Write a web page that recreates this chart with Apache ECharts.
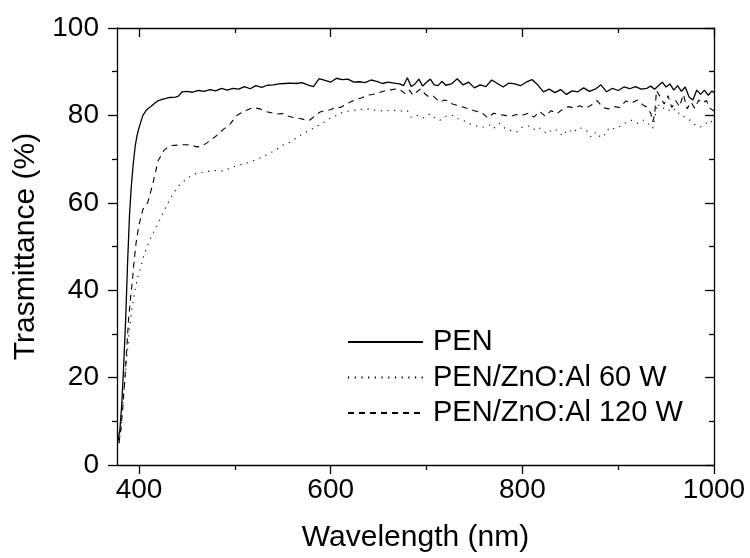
<!DOCTYPE html>
<html>
<head>
<meta charset="utf-8">
<script src="https://cdn.jsdelivr.net/npm/echarts@6/dist/echarts.min.js"></script>
<style>html,body{margin:0;padding:0;background:#fff;}#c{width:750px;height:558px;}</style>
</head>
<body>
<div id="c"></div>
<script>
const seriesNames = ['PEN', 'PEN/ZnO:Al 60 W', 'PEN/ZnO:Al 120 W'];
const xMajorTicks = [400, 600, 800, 1000];
const xMinorTicks = [500, 700, 900];

const penX = [378,380,382,384,386,388,390,392,394,396,398,400,404,408,412,416,420,426,432,438,441,445,450,456,462,468,474,480,486,492,498,504,510,516,522,528,534,540,546,552,558,564,570,576,582,588,594,600,606,612,618,624,630,636,642,648,654,660,666,672,676,680,684,688,692,696,700,704,708,712,716,720,726,732,738,744,750,756,762,768,774,780,786,792,798,804,810,816,822,828,834,840,846,852,858,864,870,876,882,888,894,900,906,912,918,924,930,934,938,942,946,950,954,958,962,966,970,974,978,982,986,990,994,998,1000];
const penY = [5.5,8,14,23,33,46,57,64,69,73,75.5,77.2,80,81.3,82,82.7,83.4,83.8,84.1,84.2,84.4,85.4,85.5,85.3,85.7,85.5,85.9,85.6,86.2,85.8,86.2,86.0,86.6,86.1,86.8,86.4,86.9,87.0,87.2,87.3,87.4,87.3,87.5,87.0,86.6,88.4,88.0,87.6,88.5,88.2,88.3,87.6,87.7,87.5,88.1,87.8,87.3,87.6,87.4,87.2,86.8,88.6,86.6,87.2,88.3,86.7,87.6,88.3,87.0,86.8,87.8,86.9,87.2,88.4,87.0,87.6,86.3,87.0,86.6,88.1,87.3,86.5,87.4,87.2,86.8,87.6,88.2,87.0,85.4,86.0,85.2,85.9,84.8,85.6,85.4,86.3,85.5,86.0,87.0,85.4,86.2,85.7,86.5,86.1,86.6,86.0,86.2,86.7,86.0,86.8,87.6,86.5,87.2,85.8,86.8,85.5,86.5,84.2,83.5,85.8,84.8,85.8,84.6,85.6,85.2];

const w60X = [379,381,383,385.4,387.5,389.5,392.3,395.8,398,401,405,409.7,414,418,423.6,429,435.5,441,448,455,461,467,477,488,498,507,516,523,529,536,542,550,558,568,576,584,592,599,606,613,620,628,638,648,656,664,672,680,684,690,696,700,704,708,714,720,728,733,738,744,749,754,760,766,770,776,782,788,794,800,806,812,816,821,826,831,836,842,848,853,858,863,868,872,877,882,886,891,896,902,908,914,920,926,930,934,936,938,941,945,950,955,960,965,970,975,980,985,990,995,1000];
const w60Y = [5,8,14,20,25,30,35.4,40,42.5,44.6,48,50.7,52.8,54.4,57,59.5,62.1,63.8,65.2,66.3,66.8,67,67.4,67.3,68.2,68.8,69.3,70.0,70.5,71.3,72,73.2,73.9,75.4,76.4,77.3,78.3,79.3,80.0,80.8,81.0,81.3,81.5,81.1,81.0,81.2,81.0,81.1,79.6,80.0,79.4,79.8,80.4,79.6,78.9,79.8,80.0,79.2,78.9,78.2,77.7,77.5,77.3,77.8,77.0,78.2,77.0,76.5,76.2,77.3,77.6,76.8,77.4,76.6,75.8,76.8,76.6,75.3,76.8,76.0,77.2,77.0,76.3,75.0,76.2,74.9,75.6,77.3,76.9,77.5,78.3,78.9,78.2,78.9,78.5,77.5,77.0,79.0,82.7,81.5,81.8,80.8,81.5,80.0,79.6,78.9,77.9,77.3,77.8,78.9,78.2];

const w120X = [379,381,383,385,387,389,391,393,395,397,400,404,409,414,420,426,432,440,448,455,460,465,470,476,481,488,495,502,510,519,526,532,538,544,550,556,562,568,573,578,583,589,595,600,605,610,615,620,626,632,638,644,650,658,664,670,674,678,682,686,690,694,698,702,707,711,714,718,722,727,732,738,744,749,754,759,764,770,776,782,788,794,800,806,812,818,824,830,836,842,848,854,860,866,872,878,884,890,896,902,908,914,920,926,930,934,936,938,940,944,948,952,956,960,964,968,972,976,980,984,988,992,996,1000];
const w120Y = [5,8,13,19,26,33,38,42,47,51,55,58.5,60,64,69.7,72,73.1,73.2,73.3,73.2,72.8,72.9,73.6,74.5,75.4,76.8,78,80,81,81.8,81.5,80.9,80.6,80.3,80.4,79.8,79.5,79.3,79.0,78.9,79.8,80.8,81.2,81.3,81.9,81.8,82.4,83.0,83.6,84.0,84.6,84.8,85.2,85.7,85.9,86.1,85.6,84.9,85.8,84.6,85.4,86.1,85.0,84.3,84.4,83.6,83.0,83.5,83.4,82.6,82.3,81.9,81.5,81.1,80.8,80.4,79.4,80.5,80.2,80.0,79.8,80.2,80.0,80.5,79.6,80.9,79.8,81.1,80.4,81.4,82.0,81.7,82.2,81.6,82.4,83.4,81.8,81.5,82.0,81.8,83.3,82.8,83.5,82.4,81.9,80.5,78.5,80.0,85.7,84.2,82.6,84.5,81.8,83.4,82.0,84.8,81.5,83.0,81.6,83.5,82.8,83.4,81.6,81.0];

function pairs(xs, ys) { return xs.map((x, i) => [x, ys[i]]); }

const FONT = 'Liberation Sans, Arial, sans-serif';
const TICK_FS = 28;
const NAME_FS = 30;
const LEG_FS = 29;
const black = '#000';
const axisLineStyle = { color: black, width: 1.3 };

const chart = echarts.init(document.getElementById('c'), null, { renderer: 'canvas' });
chart.setOption({
  animation: false,
  backgroundColor: '#fff',
  textStyle: { fontFamily: FONT, color: black },
  grid: { left: 117, right: 36, top: 28, bottom: 93, containLabel: false },
  legend: {
    orient: 'vertical',
    left: 342,
    top: 322,
    itemWidth: 75,
    itemHeight: 14,
    itemGap: 5.5,
    data: seriesNames,
    itemStyle: { opacity: 0 },
    textStyle: { fontFamily: FONT, fontSize: LEG_FS, color: black, lineHeight: 30, padding: [0, 0, 0, 5] }
  },
  xAxis: [
    {
      type: 'value', min: 377, max: 1000, position: 'bottom',
      axisLine: { show: true, onZero: false, lineStyle: axisLineStyle },
      axisTick: { show: true, inside: false, length: 9, customValues: xMajorTicks, lineStyle: axisLineStyle },
      axisLabel: { show: true, customValues: xMajorTicks, fontSize: TICK_FS, fontFamily: FONT, color: black, margin: 11, formatter: v => String(v) },
      splitLine: { show: false },
      name: 'Wavelength (nm)', nameLocation: 'middle', nameGap: 58,
      nameTextStyle: { fontSize: NAME_FS, fontFamily: FONT, color: black }
    },
    {
      type: 'value', min: 377, max: 1000, position: 'bottom',
      axisLine: { show: false, onZero: false },
      axisTick: { show: true, inside: false, length: 5, customValues: xMinorTicks, lineStyle: axisLineStyle },
      axisLabel: { show: false },
      splitLine: { show: false }
    },
    {
      type: 'value', min: 377, max: 1000, position: 'top',
      axisLine: { show: true, onZero: false, lineStyle: axisLineStyle },
      axisTick: { show: true, inside: true, length: 9, customValues: xMajorTicks, lineStyle: axisLineStyle },
      axisLabel: { show: false },
      splitLine: { show: false }
    },
    {
      type: 'value', min: 377, max: 1000, position: 'top',
      axisLine: { show: false, onZero: false },
      axisTick: { show: true, inside: true, length: 5, customValues: xMinorTicks, lineStyle: axisLineStyle },
      axisLabel: { show: false },
      splitLine: { show: false }
    }
  ],
  yAxis: [
    {
      type: 'value', min: 0, max: 100, interval: 20, position: 'left',
      axisLine: { show: true, onZero: false, lineStyle: axisLineStyle },
      axisTick: { show: true, inside: false, length: 9, lineStyle: axisLineStyle },
      minorTick: { show: true, splitNumber: 2, length: 5, lineStyle: axisLineStyle },
      axisLabel: { fontSize: TICK_FS, fontFamily: FONT, color: black, margin: 18 },
      splitLine: { show: false },
      name: 'Trasmittance (%)', nameLocation: 'middle', nameGap: 76,
      nameTextStyle: { fontSize: NAME_FS, fontFamily: FONT, color: black }
    },
    {
      type: 'value', min: 0, max: 100, interval: 20, position: 'right',
      axisLine: { show: true, onZero: false, lineStyle: axisLineStyle },
      axisTick: { show: true, inside: true, length: 9, lineStyle: axisLineStyle },
      minorTick: { show: true, splitNumber: 2, length: 5, lineStyle: axisLineStyle },
      axisLabel: { show: false },
      splitLine: { show: false }
    }
  ],
  series: [
    {
      name: seriesNames[0], type: 'line', xAxisIndex: 0, yAxisIndex: 0,
      data: pairs(penX, penY), symbol: 'none', smooth: false,
      lineStyle: { color: black, width: 1.3, type: 'solid' }, itemStyle: { color: black }
    },
    {
      name: seriesNames[1], type: 'line', xAxisIndex: 0, yAxisIndex: 0,
      data: pairs(w60X, w60Y), symbol: 'none', smooth: false,
      lineStyle: { color: black, width: 1.1, type: [1.2, 5.5] }, itemStyle: { color: black }
    },
    {
      name: seriesNames[2], type: 'line', xAxisIndex: 0, yAxisIndex: 0,
      data: pairs(w120X, w120Y), symbol: 'none', smooth: false,
      lineStyle: { color: black, width: 1.1, type: [6, 5] }, itemStyle: { color: black }
    }
  ]
});
</script>
</body>
</html>
